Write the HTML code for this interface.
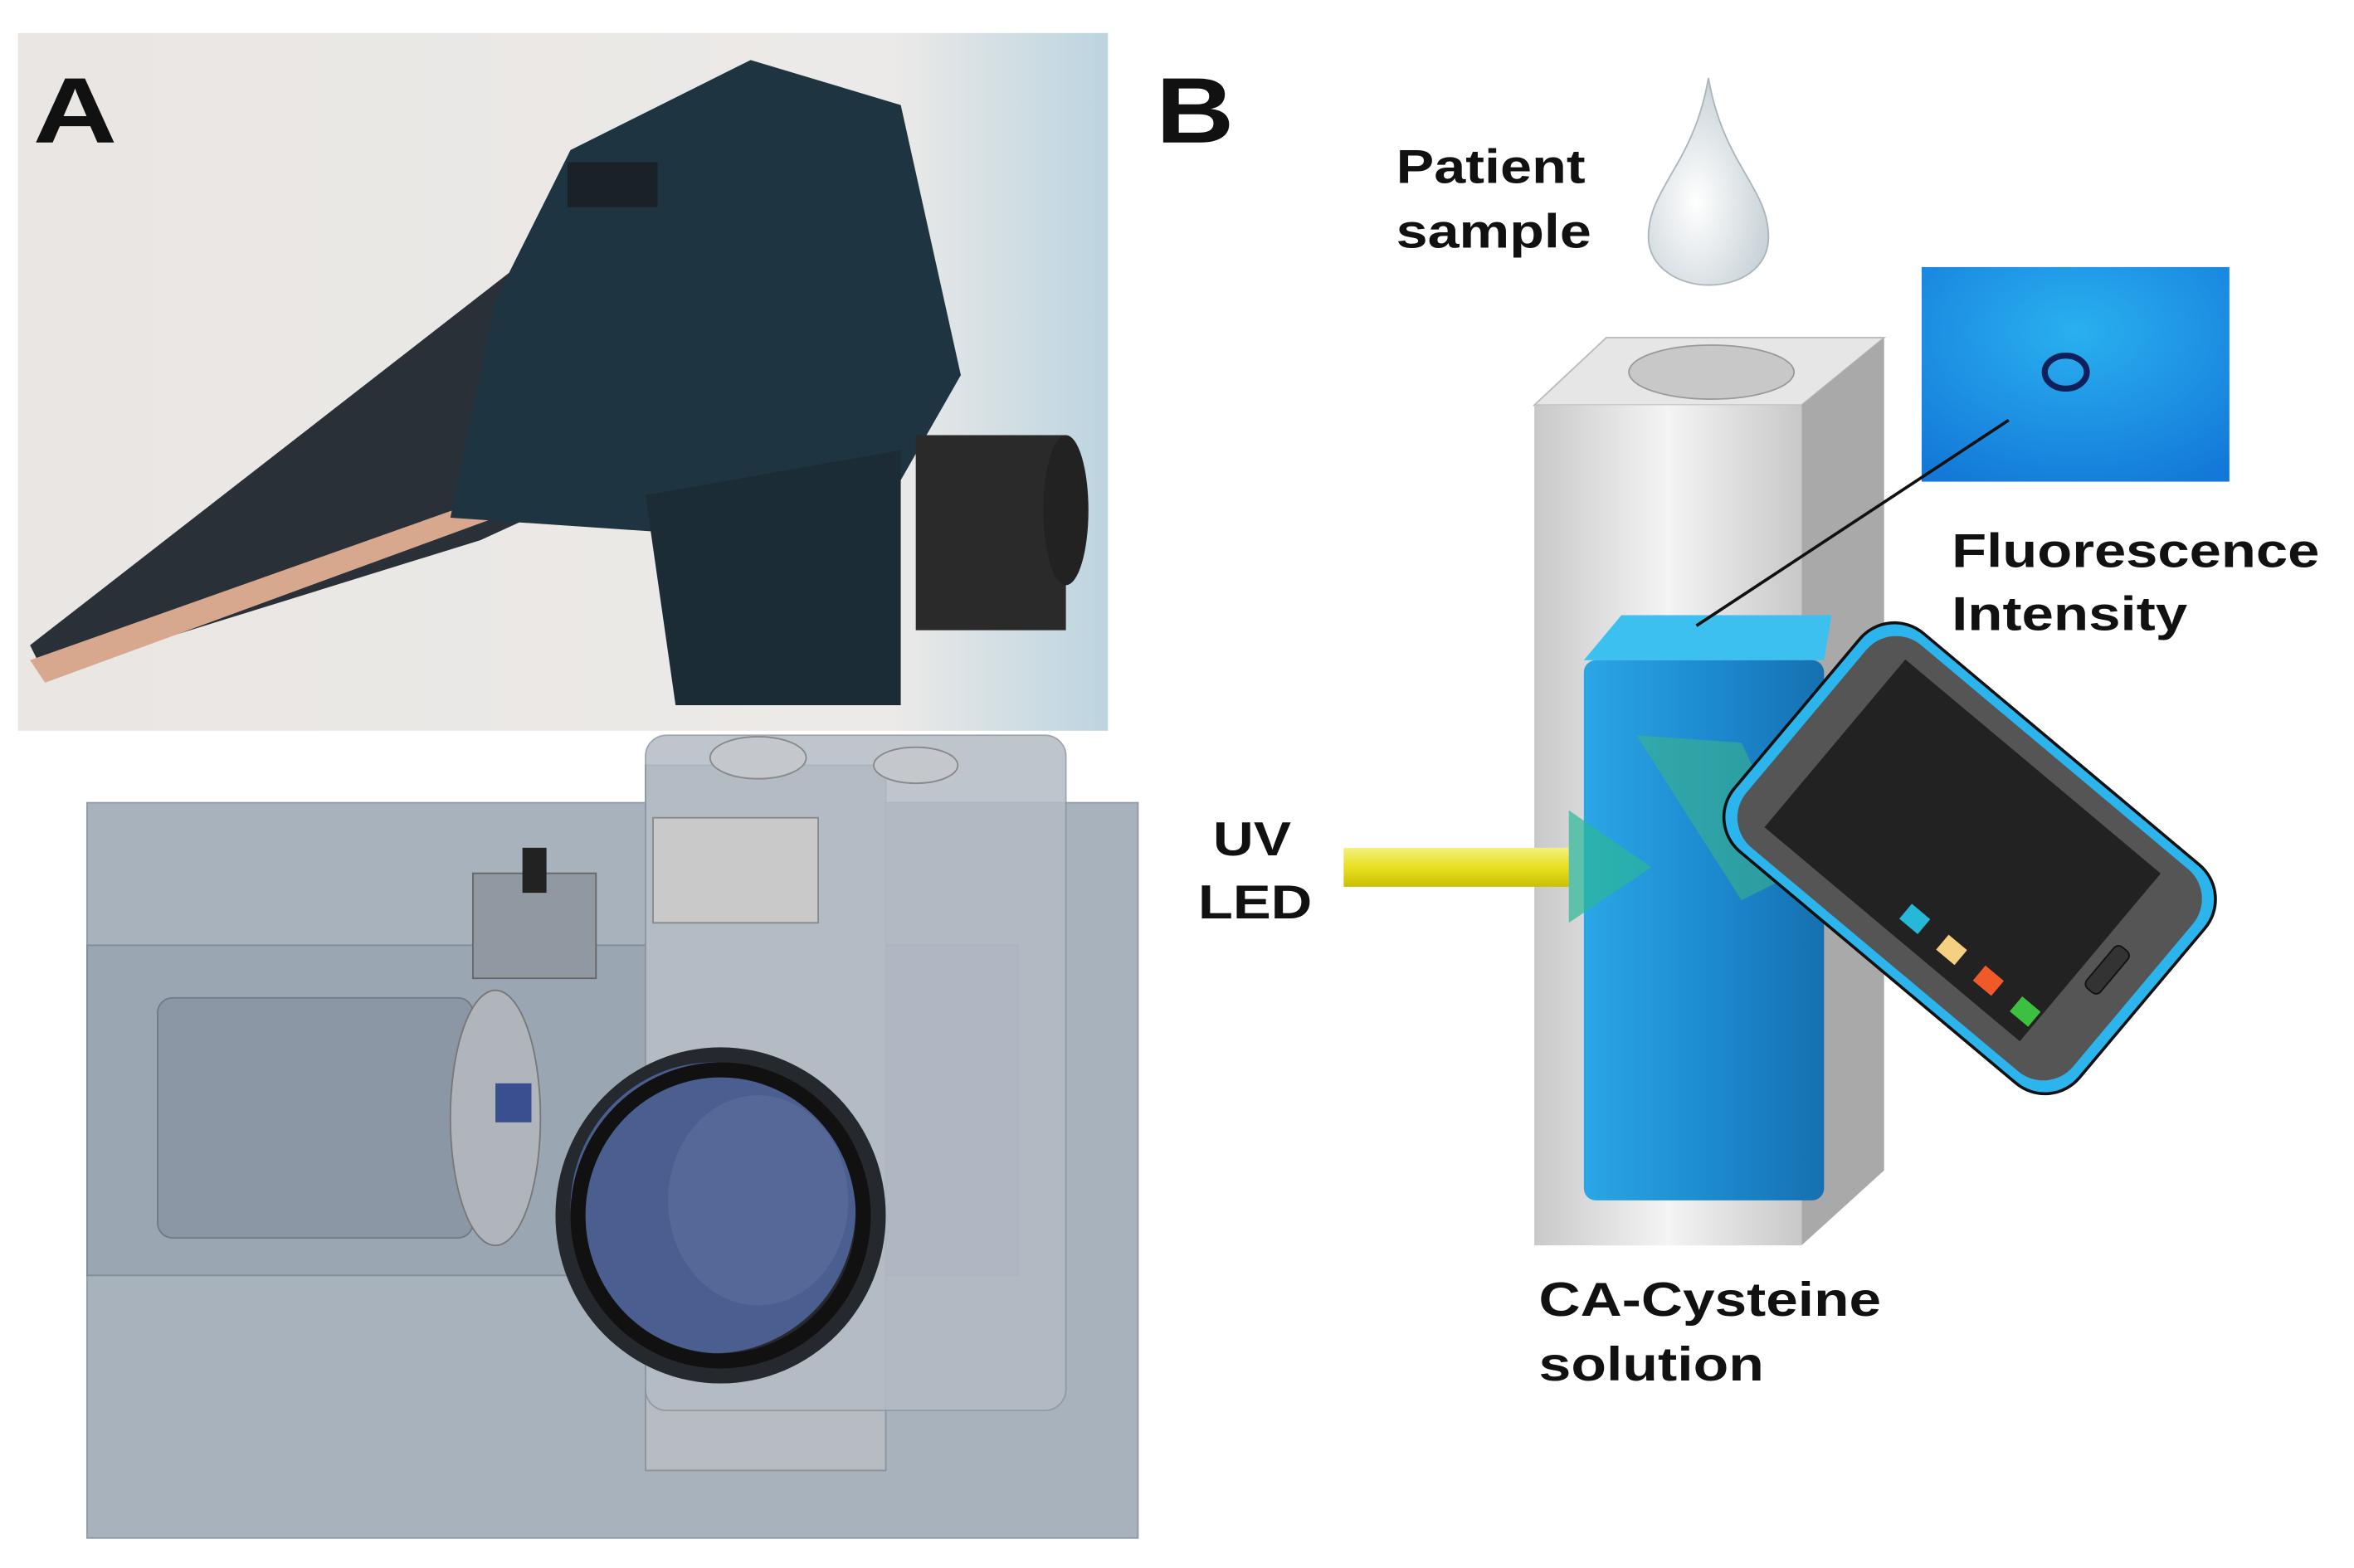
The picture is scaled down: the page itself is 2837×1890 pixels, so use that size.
<!DOCTYPE html>
<html><head><meta charset="utf-8"><style>
html,body{margin:0;padding:0;background:#fff;}
svg{display:block;}
text{font-family:"Liberation Sans",Arial,sans-serif;font-weight:bold;fill:#111;}
</style></head><body>
<svg width="2837" height="1890" viewBox="0 0 1568 1045" preserveAspectRatio="none" xmlns="http://www.w3.org/2000/svg">
<defs>
<linearGradient id="bg" x1="0" y1="0" x2="1" y2="0"><stop offset="0" stop-color="#e9e6e3"/><stop offset="0.8" stop-color="#eceae8"/><stop offset="1" stop-color="#bcd4e0"/></linearGradient>
<linearGradient id="col" x1="0" y1="0" x2="1" y2="0"><stop offset="0" stop-color="#c9c9c9"/><stop offset="0.5" stop-color="#f4f4f4"/><stop offset="1" stop-color="#c8c8c8"/></linearGradient>
<linearGradient id="liq" x1="0" y1="0" x2="1" y2="0"><stop offset="0" stop-color="#2aa6e6"/><stop offset="0.6" stop-color="#1b86cc"/><stop offset="1" stop-color="#1670b0"/></linearGradient>
<radialGradient id="blu" cx="0.5" cy="0.3" r="0.8"><stop offset="0" stop-color="#2ab0f0"/><stop offset="1" stop-color="#1378d8"/></radialGradient>
<linearGradient id="beam" x1="0" y1="0" x2="0" y2="1"><stop offset="0" stop-color="#f4f080"/><stop offset="0.5" stop-color="#e8e020"/><stop offset="1" stop-color="#c8c000"/></linearGradient>
<radialGradient id="drop" cx="0.4" cy="0.6" r="0.6"><stop offset="0" stop-color="#ffffff"/><stop offset="1" stop-color="#c9d3d8"/></radialGradient>
</defs>
<rect x="12" y="22" width="726" height="465" fill="url(#bg)"/>
<polygon points="20,430 380,150 520,60 560,250 320,360 30,450" fill="#2a3038"/>
<polygon points="20,440 330,330 330,345 30,455" fill="#d8a88e"/>
<polygon points="380,100 500,40 600,70 640,250 600,320 520,360 300,345 330,200" fill="#1e3440"/>
<polygon points="430,330 600,300 600,470 450,470" fill="#1c2c36"/>
<rect x="610" y="290" width="100" height="130" fill="#2a2a2a"/>
<ellipse cx="710" cy="340" rx="15" ry="50" fill="#222"/>
<rect x="378" y="108" width="60" height="30" fill="#1a2228"/>
<rect x="58" y="535" width="700" height="490" fill="#a8b2bd" stroke="#8e9aa6"/>
<rect x="58" y="630" width="620" height="220" fill="#9ba6b3" stroke="#7e8b98"/>
<rect x="430" y="510" width="160" height="470" fill="#b7bcc2" stroke="#8c939b"/>
<rect x="430" y="490" width="280" height="450" rx="14" fill="#b3bbc5" stroke="#8d96a1" opacity="0.85"/>
<ellipse cx="505" cy="505" rx="32" ry="14" fill="#c4c8cc" stroke="#888"/>
<ellipse cx="610" cy="510" rx="28" ry="12" fill="#c4c8cc" stroke="#888"/>
<rect x="435" y="545" width="110" height="70" fill="#c9c9c9" stroke="#888"/>
<rect x="315" y="582" width="82" height="70" fill="#9098a2" stroke="#666"/>
<rect x="348" y="565" width="16" height="30" fill="#222"/>
<rect x="105" y="665" width="210" height="160" rx="10" fill="#8b97a5" stroke="#6e7a88"/>
<ellipse cx="330" cy="745" rx="30" ry="85" fill="#b0b5bb" stroke="#777"/>
<rect x="330" y="722" width="24" height="26" fill="#3a4f90"/>
<ellipse cx="480" cy="810" rx="110" ry="112" fill="#25292e"/>
<ellipse cx="475" cy="805" rx="95" ry="97" fill="#4a5e8f"/>
<ellipse cx="480" cy="810" rx="95" ry="97" fill="none" stroke="#111" stroke-width="10"/>
<ellipse cx="505" cy="800" rx="60" ry="70" fill="#5f6f9e" opacity="0.6"/>
<text x="22" y="95" font-size="62" textLength="56" lengthAdjust="spacingAndGlyphs">A</text>
<text x="770" y="95" font-size="62" textLength="52" lengthAdjust="spacingAndGlyphs">B</text>
<text x="930" y="122" font-size="32" textLength="126" lengthAdjust="spacingAndGlyphs">Patient</text>
<text x="930" y="165" font-size="32" textLength="130" lengthAdjust="spacingAndGlyphs">sample</text>
<path d="M1138,52 C1128,110 1098,125 1098,158 C1098,178 1118,190 1138,190 C1160,190 1178,178 1178,158 C1178,125 1148,110 1138,52 Z" fill="url(#drop)" stroke="#aab4ba"/>
<polygon points="1022,270 1070,225 1255,225 1200,270" fill="#e6e6e6" stroke="#bbb"/>
<polygon points="1200,270 1255,225 1255,780 1200,830" fill="#a9a9a9"/>
<rect x="1022" y="270" width="178" height="560" fill="url(#col)"/>
<ellipse cx="1140" cy="248" rx="55" ry="18" fill="#c8c8c8" stroke="#999"/>
<polygon points="1055,440 1080,410 1220,410 1215,440" fill="#3cc0f0"/>
<rect x="1055" y="440" width="160" height="360" rx="8" fill="url(#liq)"/>
<polygon points="1090,490 1160,495 1200,580 1160,600" fill="#3ab28a" opacity="0.6"/>
<rect x="1280" y="178" width="205" height="143" fill="url(#blu)"/>
<ellipse cx="1376" cy="248" rx="14" ry="11" fill="none" stroke="#10205a" stroke-width="4"/>
<line x1="1338" y1="280" x2="1130" y2="417" stroke="#111" stroke-width="2"/>
<text x="1300" y="378" font-size="32" textLength="245" lengthAdjust="spacingAndGlyphs">Fluorescence</text>
<text x="1300" y="420" font-size="32" textLength="157" lengthAdjust="spacingAndGlyphs">Intensity</text>
<g transform="translate(1312,572) rotate(40)">
<rect x="-150" y="-95" width="300" height="190" rx="30" fill="#2cb4ec" stroke="#111" stroke-width="2"/>
<rect x="-142" y="-88" width="284" height="176" rx="26" fill="#555"/>
<rect x="-118" y="-74" width="222" height="146" fill="#222"/>
<rect x="-10" y="48" width="16" height="13" fill="#25b8d8"/>
<rect x="22" y="48" width="16" height="13" fill="#f5d080"/>
<rect x="54" y="48" width="16" height="13" fill="#f05a28"/>
<rect x="86" y="48" width="16" height="13" fill="#3cc040"/>
<rect x="112" y="-20" width="12" height="36" rx="4" fill="#333" stroke="#111"/>
</g>
<rect x="895" y="565" width="150" height="26" fill="url(#beam)"/>
<polygon points="1045,540 1100,578 1045,615" fill="#2bb898" opacity="0.7"/>
<text x="808" y="570" font-size="32" textLength="52" lengthAdjust="spacingAndGlyphs">UV</text>
<text x="798" y="612" font-size="32" textLength="76" lengthAdjust="spacingAndGlyphs">LED</text>
<text x="1025" y="877" font-size="32" textLength="228" lengthAdjust="spacingAndGlyphs">CA-Cysteine</text>
<text x="1025" y="920" font-size="32" textLength="150" lengthAdjust="spacingAndGlyphs">solution</text>
</svg>
</body></html>
